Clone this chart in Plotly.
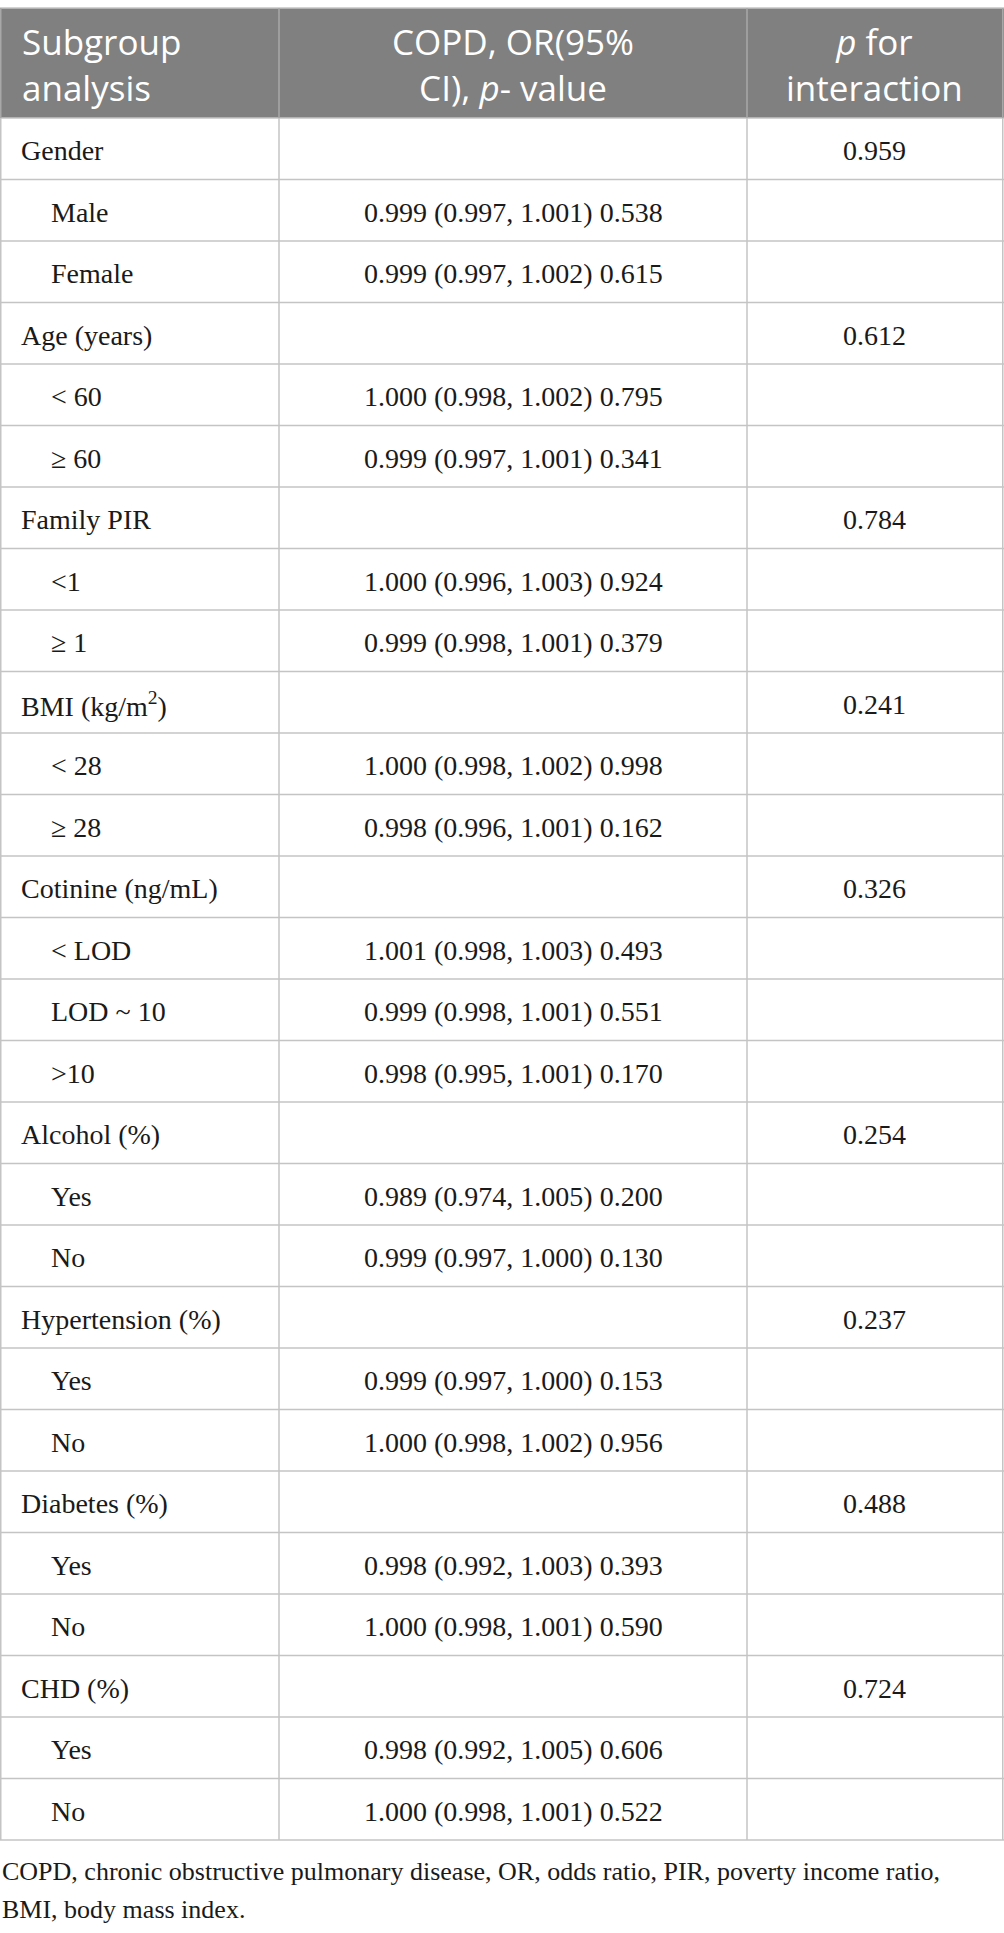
import plotly.graph_objects as go

# ---- data ----
subgroups = ["Gender", "Male", "Female", "Age (years)", "&lt; 60", "≥ 60",
             "Family PIR", "&lt;1", "≥ 1", "BMI (kg/m<sup>2</sup>)", "&lt; 28", "≥ 28",
             "Cotinine (ng/mL)", "&lt; LOD", "LOD ~ 10", "&gt;10",
             "Alcohol (%)", "Yes", "No", "Hypertension (%)", "Yes", "No",
             "Diabetes (%)", "Yes", "No", "CHD (%)", "Yes", "No"]
is_sub = [0, 1, 1, 0, 1, 1, 0, 1, 1, 0, 1, 1, 0, 1, 1, 1, 0, 1, 1, 0, 1, 1, 0, 1, 1, 0, 1, 1]
or_est = ["", "0.999", "0.999", "", "1.000", "0.999", "", "1.000", "0.999", "", "1.000", "0.998",
          "", "1.001", "0.999", "0.998", "", "0.989", "0.999", "", "0.999", "1.000",
          "", "0.998", "1.000", "", "0.998", "1.000"]
ci_low = ["", "0.997", "0.997", "", "0.998", "0.997", "", "0.996", "0.998", "", "0.998", "0.996",
          "", "0.998", "0.998", "0.995", "", "0.974", "0.997", "", "0.997", "0.998",
          "", "0.992", "0.998", "", "0.992", "0.998"]
ci_high = ["", "1.001", "1.002", "", "1.002", "1.001", "", "1.003", "1.001", "", "1.002", "1.001",
           "", "1.003", "1.001", "1.001", "", "1.005", "1.000", "", "1.000", "1.002",
           "", "1.003", "1.001", "", "1.005", "1.001"]
p_value = ["", "0.538", "0.615", "", "0.795", "0.341", "", "0.924", "0.379", "", "0.998", "0.162",
           "", "0.493", "0.551", "0.170", "", "0.200", "0.130", "", "0.153", "0.956",
           "", "0.393", "0.590", "", "0.606", "0.522"]
p_interaction = ["0.959", "", "", "0.612", "", "", "0.784", "", "", "0.241", "", "",
                 "0.326", "", "", "", "0.254", "", "", "0.237", "", "",
                 "0.488", "", "", "0.724", "", ""]
header_labels = ["Subgroup<br>analysis", "COPD, OR(95%<br>CI), <i>p</i>- value",
                 "<i>p</i> for<br>interaction"]
footnote_lines = ["COPD, chronic obstructive pulmonary disease, OR, odds ratio, PIR, poverty income ratio,",
                  "BMI, body mass index."]

# ---- layout constants ----
W, H = 1004, 1933
TOP = 8
HEADER_H = 110
ROW_H = 61.5
COL_X = [0.75, 279, 747, 1002.75]        # column boundaries
GRID = "#c4c4c4"
HDR_FILL = "#808080"
SERIF = "Liberation Serif"
SANS = "Open Sans"
TXT = "#1a1a1a"

n_rows = len(subgroups)
row_top = [TOP + HEADER_H + i * ROW_H for i in range(n_rows)]
row_mid = [t + ROW_H / 2 + 2 for t in row_top]
bottom = TOP + HEADER_H + n_rows * ROW_H
col_mid = [(COL_X[i] + COL_X[i + 1]) / 2 for i in range(3)]

col2 = [f"{o} ({l}, {h}) {p}" if o else "" for o, l, h, p in zip(or_est, ci_low, ci_high, p_value)]

fig = go.Figure()

shapes = []
# header fill
shapes.append(dict(type="rect", xref="x", yref="y", x0=0, x1=W, y0=TOP, y1=TOP + HEADER_H,
                   fillcolor=HDR_FILL, line=dict(width=0), layer="below"))
# horizontal lines
for y in [TOP, TOP + HEADER_H] + [t + ROW_H for t in row_top]:
    shapes.append(dict(type="line", xref="x", yref="y", x0=0, x1=W, y0=y, y1=y,
                       line=dict(color=GRID, width=1.5)))
# vertical lines
for x in COL_X:
    shapes.append(dict(type="line", xref="x", yref="y", x0=x, x1=x, y0=TOP, y1=TOP + HEADER_H,
                       line=dict(color="#a8a8a8", width=1.5)))
    shapes.append(dict(type="line", xref="x", yref="y", x0=x, x1=x, y0=TOP + HEADER_H, y1=bottom,
                       line=dict(color=GRID, width=1.5)))

annotations = []
hdr_font = dict(family=SANS, size=35, color="white")
hdr_y = TOP + HEADER_H / 2 + 1
annotations.append(dict(text=header_labels[0], x=20, y=hdr_y, xanchor="left", yanchor="middle",
                        align="left", font=hdr_font))
annotations.append(dict(text=header_labels[1], x=col_mid[1], y=hdr_y, xanchor="center",
                        yanchor="middle", align="center", font=hdr_font))
annotations.append(dict(text=header_labels[2], x=col_mid[2], y=hdr_y, xanchor="center",
                        yanchor="middle", align="center", font=hdr_font))

cell_font = dict(family=SERIF, size=28, color=TXT)
for i in range(n_rows):
    annotations.append(dict(text=subgroups[i], x=(49 if is_sub[i] else 19), y=row_mid[i],
                            xanchor="left", yanchor="middle", align="left", font=cell_font))
    if col2[i]:
        annotations.append(dict(text=col2[i], x=col_mid[1], y=row_mid[i], xanchor="center",
                                yanchor="middle", font=cell_font))
    if p_interaction[i]:
        annotations.append(dict(text=p_interaction[i], x=col_mid[2], y=row_mid[i], xanchor="center",
                                yanchor="middle", font=cell_font))

foot_font = dict(family=SERIF, size=26, color=TXT)
for k, line in enumerate(footnote_lines):
    annotations.append(dict(text=line, x=0, y=bottom + 31 + k * 38.5, xanchor="left",
                            yanchor="middle", align="left", font=foot_font))

for a in annotations:
    a.update(xref="x", yref="y", showarrow=False)

fig.update_layout(width=W, height=H, margin=dict(l=0, r=0, t=0, b=0),
                  paper_bgcolor="white", plot_bgcolor="white",
                  xaxis=dict(range=[0, W], visible=False, fixedrange=True),
                  yaxis=dict(range=[H, 0], visible=False, fixedrange=True),
                  shapes=shapes, annotations=annotations, showlegend=False)
fig.write_html("out.html", config=dict(displayModeBar=False),
               post_script="document.body.style.margin='0';document.body.style.overflow='hidden';")
